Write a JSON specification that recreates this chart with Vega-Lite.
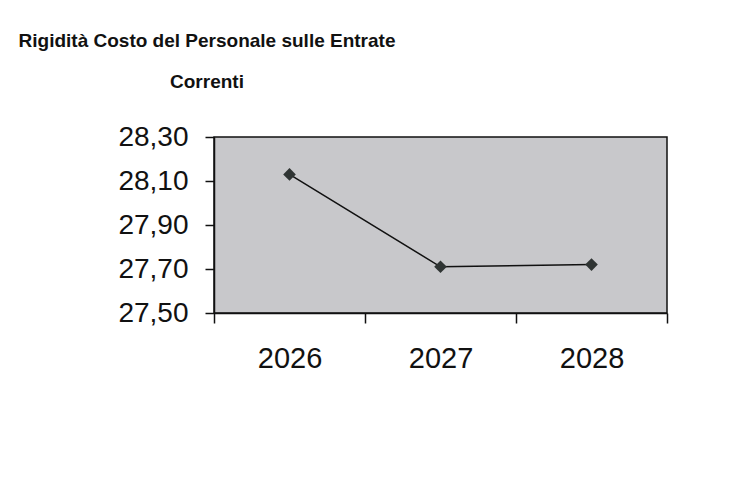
{
  "$schema": "https://vega.github.io/schema/vega-lite/v6.json",
  "autosize": {"type": "none"},
  "padding": {"left": 214, "top": 137, "right": 84, "bottom": 185},
  "width": 453,
  "height": 176,
  "background": "white",
  "config": {
    "locale": {"number": {"decimal": ",", "thousands": ".", "grouping": [3], "currency": ["€", ""]}},
    "view": {"fill": "#c8c8cb", "stroke": "#111111", "strokeWidth": 1.5},
    "font": "Liberation Sans"
  },
  "title": {
    "text": ["Rigidità Costo del Personale sulle Entrate", "Correnti"],
    "anchor": "start",
    "frame": "group",
    "align": "center",
    "dx": -7,
    "offset": 31,
    "lineHeight": 41,
    "font": "Liberation Sans",
    "fontSize": 19,
    "fontWeight": "bold",
    "color": "#111111"
  },
  "data": {
    "values": [
      {"anno": "2026", "valore": 28.13},
      {"anno": "2027", "valore": 27.71},
      {"anno": "2028", "valore": 27.72}
    ]
  },
  "encoding": {
    "x": {
      "field": "anno",
      "type": "ordinal",
      "scale": {"paddingInner": 0, "paddingOuter": 0},
      "axis": {
        "title": null,
        "labelAngle": 0,
        "labelFontSize": 29,
        "labelColor": "#111111",
        "labelPadding": 21,
        "tickBand": "extent",
        "tickSize": 10,
        "tickColor": "#111111",
        "tickWidth": 1.5,
        "domainColor": "#111111",
        "domainWidth": 1.5
      }
    },
    "y": {
      "field": "valore",
      "type": "quantitative",
      "scale": {"domain": [27.5, 28.3], "zero": false, "nice": false},
      "axis": {
        "title": null,
        "values": [27.5, 27.7, 27.9, 28.1, 28.3],
        "format": ".2f",
        "grid": false,
        "labelFontSize": 28,
        "labelColor": "#111111",
        "labelPadding": 17,
        "tickSize": 9,
        "tickColor": "#111111",
        "tickWidth": 1.5,
        "domainColor": "#111111",
        "domainWidth": 1.5
      }
    }
  },
  "layer": [
    {"mark": {"type": "line", "color": "#111111", "strokeWidth": 1.5}},
    {"mark": {"type": "point", "shape": "diamond", "filled": true, "size": 160, "color": "#2f3433", "opacity": 1}}
  ]
}
